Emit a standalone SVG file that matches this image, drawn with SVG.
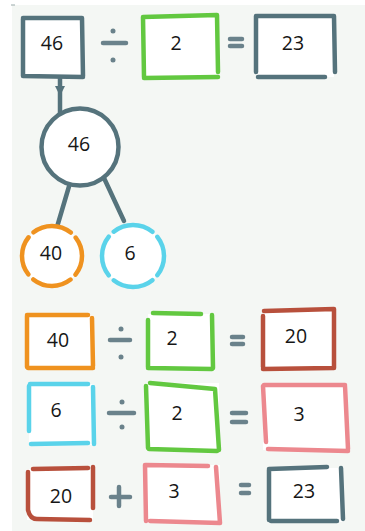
<svg xmlns="http://www.w3.org/2000/svg" width="365" height="531" viewBox="0 0 365 531">
<style>
.bg{fill:#f4f7f4}
.fill{fill:#fff}
.edge{fill:none;stroke-width:4.5;stroke-linecap:round;stroke-linejoin:round}
.dark{stroke:#55737c}
.green{stroke:#62c840}
.orange{stroke:#ef921f}
.cyan{stroke:#5ad3ea}
.red{stroke:#b8503c}
.pink{stroke:#ec888e}
.op{stroke:#6a828b;stroke-width:4.5;stroke-linecap:round;fill:none}
.dot{fill:#6a828b}
.lbl{font-family:"Open Sans","Liberation Sans",sans-serif;font-size:19.5px;fill:#161616;text-anchor:middle}
.conn{fill:none;stroke:#55737c;stroke-width:4.5;stroke-linecap:round}
</style>
<rect class="bg" x="12" y="5" width="353" height="526"/>
<line x1="11" y1="5" x2="15" y2="5" stroke="#9aa" stroke-width="1"/>

<g id="connectors">
  <path class="conn" d="M60 78 L60 114"/>
  <path d="M55 86 L65 86 L61.5 93 L58.5 93 Z" fill="#55737c"/>
  <path class="conn" d="M70 183 L57 227"/>
  <path class="conn" d="M104 178 L124 221"/>
</g>

<g id="operators">
  <line class="op" x1="103" y1="43" x2="126" y2="43"/>
  <circle class="dot" cx="113" cy="31" r="2.5"/>
  <circle class="dot" cx="113" cy="60" r="2.5"/>
  <line class="op" x1="230" y1="39" x2="242" y2="39"/>
  <line class="op" x1="230" y1="46" x2="242" y2="46"/>

  <line class="op" x1="110" y1="340" x2="130" y2="340"/>
  <circle class="dot" cx="121" cy="329" r="2.5"/>
  <circle class="dot" cx="121" cy="357" r="2.5"/>
  <line class="op" x1="232" y1="337" x2="243" y2="337"/>
  <line class="op" x1="232" y1="344" x2="243" y2="344"/>

  <line class="op" x1="109" y1="413" x2="134" y2="413"/>
  <circle class="dot" cx="122" cy="402" r="2.5"/>
  <circle class="dot" cx="122" cy="427" r="2.5"/>
  <line class="op" x1="232" y1="413" x2="246" y2="413"/>
  <line class="op" x1="232" y1="422" x2="246" y2="422"/>

  <line class="op" x1="111" y1="497" x2="130" y2="497"/>
  <line class="op" x1="119" y1="487" x2="119" y2="506"/>
  <line class="op" x1="241" y1="485" x2="249" y2="485"/>
  <line class="op" x1="241" y1="493" x2="249" y2="493"/>
</g>

<g id="box-46">
  <rect class="fill" x="23" y="18" width="60" height="59"/>
  <path class="edge dark" d="M23 19 L23 76 M23 18 L82 18 M82 18 L83 76 M23 76 L83 77"/>
  <text class="lbl" x="52" y="50">46</text>
</g>
<g id="box-2a">
  <rect class="fill" x="143" y="16" width="75" height="62"/>
  <path class="edge green" d="M143 17 L144 77 M143 17 L217 15 M217 15 L218 72 M144 78 L218 77"/>
  <text class="lbl" x="176" y="50">2</text>
</g>
<g id="box-23a">
  <rect class="fill" x="256" y="16" width="78" height="61"/>
  <path class="edge dark" d="M256 16 L256 72 M257 16 L334 16 M334 16 L335 72 M258 77 L325 77"/>
  <text class="lbl" x="293" y="50">23</text>
</g>

<g id="circle-46">
  <circle class="fill" cx="80" cy="147" r="38.5"/>
  <circle class="edge dark" cx="80" cy="147" r="38.5"/>
  <text class="lbl" x="79" y="151">46</text>
</g>
<g id="circle-40">
  <circle class="fill" cx="52" cy="256" r="30"/>
  <circle class="edge orange" cx="52" cy="256" r="30" stroke-dasharray="40.1 7" stroke-dashoffset="20"/>
  <text class="lbl" x="51" y="260">40</text>
</g>
<g id="circle-6">
  <circle class="fill" cx="133" cy="256" r="31"/>
  <circle class="edge cyan" cx="133" cy="256" r="31" stroke-dasharray="41.7 7" stroke-dashoffset="21"/>
  <text class="lbl" x="130" y="260">6</text>
</g>

<g id="box-40">
  <rect class="fill" x="27" y="315" width="66" height="53"/>
  <path class="edge orange" d="M27 316 L27 367 M27 315 L88 315 M92 318 L93 366 M28 368 L93 368"/>
  <text class="lbl" x="58" y="347">40</text>
</g>
<g id="box-2b">
  <rect class="fill" x="148" y="314" width="64" height="54"/>
  <path class="edge green" d="M148 320 L148 367 M153 313 L201 314 M212 315 L213 368 M148 368 L212 369"/>
  <text class="lbl" x="172" y="345">2</text>
</g>
<g id="box-20a">
  <rect class="fill" x="263" y="311" width="71" height="57"/>
  <path class="edge red" d="M263 316 L263 367 M264 311 L334 309 M334 309 L334 368 M263 369 L333 368"/>
  <text class="lbl" x="296" y="343">20</text>
</g>

<g id="box-6">
  <rect class="fill" x="29" y="384" width="65" height="61"/>
  <path class="edge cyan" d="M29 386 L29 431 M30 384 L88 384 M93 387 L94 444 M31 444 L88 443"/>
  <text class="lbl" x="56" y="417">6</text>
</g>
<g id="box-2c">
  <rect class="fill" x="146" y="383" width="73" height="67"/>
  <path class="edge green" d="M146 386 L148 448 M150 383 L215 389 M215 389 L219 450 M149 449 L217 451"/>
  <text class="lbl" x="177" y="420">2</text>
</g>
<g id="box-3a">
  <rect class="fill" x="263" y="385" width="85" height="65"/>
  <path class="edge pink" d="M263 386 L266 442 M264 385 L345 385 M345 385 L348 449 M268 449 L348 451"/>
  <text class="lbl" x="299" y="421">3</text>
</g>

<g id="box-20b">
  <rect class="fill" x="27" y="469" width="66" height="51"/>
  <path class="edge red" d="M28 472 L28 510 Q30 519 37 519 L90 520 M33 469 L88 468 M93 467 L93 508"/>
  <text class="lbl" x="61" y="503">20</text>
</g>
<g id="box-3b">
  <rect class="fill" x="144" y="465" width="76" height="58"/>
  <path class="edge pink" d="M145 465 L146 521 M146 465 L208 466 M216 467 L220 523 M150 521 L220 523"/>
  <text class="lbl" x="174" y="498">3</text>
</g>
<g id="box-23b">
  <rect class="fill" x="267" y="468" width="76" height="54"/>
  <path class="edge dark" d="M269 470 L269 520 M269 469 L327 467 M341 468 L343 519 M271 521 L337 521"/>
  <text class="lbl" x="304" y="498">23</text>
</g>
</svg>
